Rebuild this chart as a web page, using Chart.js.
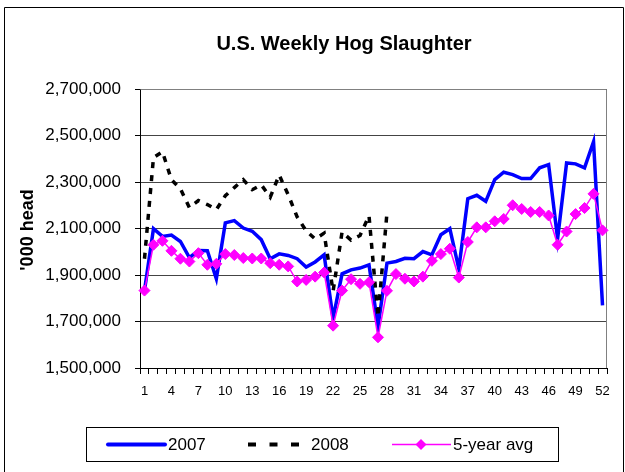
<!DOCTYPE html>
<html>
<head>
<meta charset="utf-8">
<script src="https://cdn.jsdelivr.net/npm/chart.js@4/dist/chart.umd.min.js"></script>
<style>
  html, body { margin: 0; padding: 0; background: #fff; }
  #wrap { width: 625px; height: 472px; }
</style>
</head>
<body>
<div id="wrap"><canvas id="c" width="625" height="472"></canvas></div>
<script>
const weeks = ["1","2","3","4","5","6","7","8","9","10","11","12","13","14","15","16","17","18","19","20","21","22","23","24","25","26","27","28","29","30","31","32","33","34","35","36","37","38","39","40","41","42","43","44","45","46","47","48","49","50","51","52"];

const y2007 = [1833000, 2099000, 2066000, 2072000, 2044000, 1975000, 2005000, 2004000, 1884000, 2124000,
               2134000, 2102000, 2088000, 2052000, 1970000, 1991000, 1984000, 1970000, 1934000, 1956000,
               1987000, 1714000, 1905000, 1922000, 1930000, 1944000, 1678000, 1951000, 1958000, 1972000,
               1970000, 2001000, 1987000, 2073000, 2099000, 1927000, 2228000, 2243000, 2217000, 2310000,
               2342000, 2332000, 2315000, 2315000, 2361000, 2375000, 2056000, 2382000, 2378000, 2361000,
               2473000, 1769000];

const y2008 = [1970000, 2405000, 2430000, 2310000, 2271000, 2190000, 2220000, 2203000, 2181000, 2241000,
               2276000, 2310000, 2267000, 2288000, 2235000, 2330000, 2245000, 2150000, 2090000, 2055000,
               2080000, 1830000, 2085000, 2050000, 2070000, 2155000, 1720000, 2168000];

const avg5 = [1833000, 2030000, 2047000, 2004000, 1970000, 1958000, 1994000, 1944000, 1948000, 1990000,
              1986000, 1973000, 1971000, 1971000, 1951000, 1944000, 1937000, 1872000, 1879000, 1893000,
              1911000, 1682000, 1833000, 1882000, 1862000, 1869000, 1632000, 1832000, 1904000, 1884000,
              1872000, 1893000, 1961000, 1990000, 2013000, 1889000, 2042000, 2105000, 2105000, 2131000,
              2141000, 2200000, 2184000, 2171000, 2171000, 2156000, 2030000, 2087000, 2162000, 2188000,
              2249000, 2092000];

const yTicks = { min: 1500000, max: 2700000, step: 200000 };
const xLabelEvery = 3;
const titleText = "U.S. Weekly Hog Slaughter";
const yTitleText = "'000 head";
const seriesNames = ["2007", "2008", "5-year avg"];

const FONT = "'Liberation Sans', Arial, Helvetica, sans-serif";
Chart.defaults.font.family = FONT;
Chart.defaults.color = '#000';

const decor = {
  id: 'decor',
  beforeDraw(chart) {
    const ctx = chart.ctx;
    ctx.save();
    ctx.fillStyle = '#fff';
    ctx.fillRect(0, 0, chart.width, chart.height);
    ctx.strokeStyle = '#000';
    ctx.lineWidth = 1;
    ctx.beginPath();
    ctx.moveTo(4.5, 480);
    ctx.lineTo(4.5, 7.5);
    ctx.lineTo(623.5, 7.5);
    ctx.lineTo(623.5, 480);
    ctx.stroke();
    ctx.restore();
  },
  beforeDatasetsDraw(chart) {
    const ctx = chart.ctx;
    const a = chart.chartArea;
    ctx.save();
    ctx.strokeStyle = '#808080';
    ctx.lineWidth = 1;
    ctx.beginPath();
    ctx.moveTo(Math.round(a.left) + 0.5, Math.round(a.top) + 0.5);
    ctx.lineTo(Math.round(a.right) - 0.5, Math.round(a.top) + 0.5);
    ctx.lineTo(Math.round(a.right) - 0.5, Math.round(a.bottom));
    ctx.stroke();
    ctx.restore();
  },
  afterDraw(chart) {
    const ctx = chart.ctx;
    ctx.save();
    ctx.fillStyle = '#000';
    ctx.font = 'bold 20px ' + FONT;
    ctx.textAlign = 'center';
    ctx.textBaseline = 'middle';
    ctx.fillText(titleText, 344, 44);
    ctx.save();
    ctx.translate(28, 230);
    ctx.rotate(-Math.PI / 2);
    ctx.font = 'bold 18px ' + FONT;
    ctx.fillText(yTitleText, 0, 0);
    ctx.restore();
    ctx.strokeStyle = '#000';
    ctx.lineWidth = 1;
    ctx.strokeRect(86.5, 427.5, 472, 34);
    const ly = 444.5;
    ctx.font = '17px ' + FONT;
    ctx.textAlign = 'left';
    ctx.textBaseline = 'middle';
    ctx.beginPath();
    ctx.strokeStyle = '#0000FF';
    ctx.lineWidth = 4;
    ctx.lineCap = 'round';
    ctx.moveTo(108, ly); ctx.lineTo(165, ly);
    ctx.stroke();
    ctx.fillText(seriesNames[0], 168, ly + 1);
    ctx.beginPath();
    ctx.strokeStyle = '#000';
    ctx.lineWidth = 4;
    ctx.lineCap = 'butt';
    ctx.setLineDash([8, 13.5]);
    ctx.moveTo(248, ly); ctx.lineTo(300, ly);
    ctx.stroke();
    ctx.setLineDash([]);
    ctx.fillText(seriesNames[1], 311, ly + 1);
    ctx.beginPath();
    ctx.strokeStyle = '#FF00FF';
    ctx.lineWidth = 1.5;
    ctx.moveTo(392, ly); ctx.lineTo(451, ly);
    ctx.stroke();
    ctx.beginPath();
    ctx.fillStyle = '#FF00FF';
    const dx = 421, r = 5.5;
    ctx.moveTo(dx, ly - r); ctx.lineTo(dx + r, ly); ctx.lineTo(dx, ly + r); ctx.lineTo(dx - r, ly);
    ctx.closePath(); ctx.fill();
    ctx.fillStyle = '#000';
    ctx.fillText(seriesNames[2], 453, ly + 1);
    ctx.restore();
  }
};

new Chart(document.getElementById('c'), {
  type: 'line',
  data: {
    labels: weeks,
    datasets: [
      {
        label: seriesNames[0],
        data: y2007,
        borderColor: '#0000FF',
        borderWidth: 3.5,
        pointRadius: 0,
        tension: 0,
        fill: false,
        order: 2
      },
      {
        label: seriesNames[1],
        data: y2008,
        borderColor: '#000000',
        borderWidth: 3.5,
        borderDash: [6, 7],
        pointRadius: 0,
        tension: 0,
        fill: false,
        order: 1
      },
      {
        label: seriesNames[2],
        data: avg5,
        borderColor: '#FF00FF',
        borderWidth: 1.5,
        pointStyle: 'rectRot',
        pointRadius: 5.5,
        pointBackgroundColor: '#FF00FF',
        pointBorderColor: '#FF00FF',
        pointBorderWidth: 1,
        tension: 0,
        fill: false,
        order: 0
      }
    ]
  },
  options: {
    responsive: false,
    animation: false,
    devicePixelRatio: 1,
    layout: { padding: { top: 89, left: 0, right: 18, bottom: 64 } },
    plugins: {
      legend: { display: false },
      title: { display: false },
      tooltip: { enabled: false }
    },
    scales: {
      x: {
        type: 'category',
        offset: true,
        afterFit(scale) { scale.height = 40; },
        grid: {
          offset: true,
          drawOnChartArea: false,
          drawTicks: true,
          tickLength: 6,
          color: '#000',
          lineWidth: 1
        },
        border: { color: '#000', width: 1 },
        ticks: {
          autoSkip: false,
          maxRotation: 0,
          minRotation: 0,
          padding: 10,
          font: { size: 13 },
          color: '#000',
          callback(val, idx) { return idx % xLabelEvery === 0 ? weeks[idx] : ''; }
        }
      },
      y: {
        min: yTicks.min,
        max: yTicks.max,
        afterFit(scale) { scale.width = 140; },
        grid: {
          color: '#444',
          lineWidth: 1,
          tickLength: 5,
          tickColor: '#000'
        },
        border: { color: '#000', width: 1 },
        ticks: {
          stepSize: yTicks.step,
          padding: 14,
          font: { size: 17 },
          color: '#000',
          callback(v) { return Number(v).toLocaleString('en-US'); }
        }
      }
    }
  },
  plugins: [decor]
});
</script>
</body>
</html>
